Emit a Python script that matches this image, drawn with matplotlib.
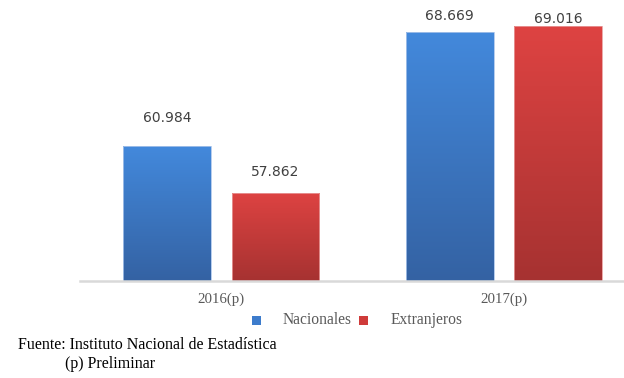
import numpy as np
import matplotlib.pyplot as plt
from matplotlib.colors import LinearSegmentedColormap
from matplotlib.patches import Rectangle

# Data
categories = ['2016(p)', '2017(p)']
nacionales = [60.984, 68.669]
extranjeros = [57.862, 69.016]
series_names = ['Nacionales', 'Extranjeros']
label_texts_nac = ['60.984', '68.669']
label_texts_ext = ['57.862', '69.016']

fig = plt.figure(figsize=(6.24, 3.78), dpi=100)
ax = fig.add_axes([0.128, 0.2566, 0.872, 0.717])

x = np.arange(len(categories))
w = 0.311
off = 0.192

blue_cmap = LinearSegmentedColormap.from_list('b', ['#3462a3', '#4389dc'])
red_cmap = LinearSegmentedColormap.from_list('r', ['#a63231', '#de4342'])

bars_n = ax.bar(x - off, nacionales, w, bottom=0, color='none', edgecolor='#a9c4ea', linewidth=0.6)
bars_e = ax.bar(x + off, extranjeros, w, bottom=0, color='none', edgecolor='#e89a9a', linewidth=0.6)

ymin, ymax = 51.93, 70.12
grad = np.linspace(0, 1, 256).reshape(-1, 1)
for bars, cmap in [(bars_n, blue_cmap), (bars_e, red_cmap)]:
    for b in bars:
        x0 = b.get_x()
        x1 = x0 + b.get_width()
        top = b.get_height()
        im = ax.imshow(grad, cmap=cmap, origin='lower', aspect='auto',
                       extent=[x0, x1, ymin, top], zorder=1)
        im.set_clip_path(b)
        b.set_zorder(2)

ax.set_xlim(-0.5, 1.425)
ax.set_ylim(ymin, ymax)

# data labels (offsets in pixels above bar top)
nac_offsets = [28, 16]
ext_offsets = [21, 7]
for i in range(len(categories)):
    ax.annotate(label_texts_nac[i], (x[i] - off, nacionales[i]), xytext=(0, nac_offsets[i]),
                textcoords='offset pixels', ha='center', va='center',
                fontsize=10, color='#404040', family='DejaVu Sans')
    ax.annotate(label_texts_ext[i], (x[i] + off, extranjeros[i]), xytext=(0, ext_offsets[i]),
                textcoords='offset pixels', ha='center', va='center',
                fontsize=10, color='#404040', family='DejaVu Sans')

for s in ['top', 'right', 'left']:
    ax.spines[s].set_visible(False)
ax.spines['bottom'].set_color('#d9d9d9')
ax.spines['bottom'].set_linewidth(1.8)
ax.set_yticks([])
ax.set_xticks(x)
ax.set_xticklabels(categories, family='Liberation Serif', fontsize=10.7, color='#595959')
ax.tick_params(axis='x', length=0, pad=8)

# legend
fig.patches.append(Rectangle((252 / 624, 1 - 325 / 378), 9 / 624, 9 / 378,
                             transform=fig.transFigure, facecolor='#3d7ccc', edgecolor='none'))
fig.patches.append(Rectangle((359 / 624, 1 - 325 / 378), 9 / 624, 9 / 378,
                             transform=fig.transFigure, facecolor='#cf3b3a', edgecolor='none'))
fig.text(283 / 624, 1 - 320 / 378, series_names[0], family='Liberation Serif', fontsize=11.2,
         color='#595959', va='center')
fig.text(391 / 624, 1 - 320 / 378, series_names[1], family='Liberation Serif', fontsize=11.2,
         color='#595959', va='center')

fig.text(18 / 624, 1 - 345 / 378, 'Fuente: Instituto Nacional de Estadística',
         family='Liberation Serif', fontsize=11.5, color='black', va='center')
fig.text(65 / 624, 1 - 364 / 378, '(p) Preliminar',
         family='Liberation Serif', fontsize=11.5, color='black', va='center')

fig.savefig('out.png', dpi=100)
